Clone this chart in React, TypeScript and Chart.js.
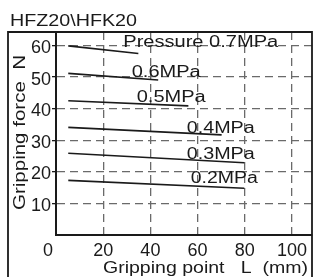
import React, { useEffect, useRef } from "react";
import { Chart, registerables } from "chart.js";

Chart.register(...registerables);

const X_TICKS = [20, 40, 60, 80, 100];
const Y_TICKS = [10, 20, 30, 40, 50, 60];

const PRESSURE_LABELS = ["Pressure 0.7MPa", "0.6MPa", "0.5MPa", "0.4MPa", "0.3MPa", "0.2MPa"];

// Gripping point L (mm) and gripping force N for each line
const L_07 = [5.2, 34.9];
const N_07 = [59.9, 57.5];
const L_06 = [5.2, 43.3];
const N_06 = [51.2, 49.1];
const L_05 = [5.2, 56.1];
const N_05 = [42.5, 40.9];
const L_04 = [5.2, 70.2];
const N_04 = [34.1, 31.7];
const L_03 = [5.2, 79.8];
const N_03 = [25.9, 22.9];
const L_02 = [5.2, 79.8];
const N_02 = [17.3, 14.8];

const SERIES_L = [L_07, L_06, L_05, L_04, L_03, L_02];
const SERIES_N = [N_07, N_06, N_05, N_04, N_03, N_02];

// label anchor (left, baseline) in data units
const LABEL_L = [28.5, 32.1, 34.2, 55.4, 55.4, 57.1];
const LABEL_N = [59.6, 50.1, 42.0, 32.4, 24.0, 16.4];
const LABEL_W = [155, 69, 69, 68, 68, 67];

const FONT = "'Liberation Sans', Arial, sans-serif";
const INK = "#1a1a1a";

function drawStretched(
  ctx: CanvasRenderingContext2D,
  text: string,
  x: number,
  y: number,
  width: number,
  size: number
) {
  ctx.save();
  ctx.font = `${size}px ${FONT}`;
  ctx.fillStyle = INK;
  ctx.textAlign = "left";
  ctx.textBaseline = "alphabetic";
  const w = ctx.measureText(text).width;
  ctx.translate(x, y);
  ctx.scale(width / w, 1);
  ctx.fillText(text, 0, 0);
  ctx.restore();
}

const decor = {
  id: "decor",
  beforeDraw(chart: any) {
    const ctx = chart.ctx as CanvasRenderingContext2D;
    ctx.save();
    ctx.fillStyle = "#ffffff";
    ctx.fillRect(0, 0, chart.width, chart.height);
    ctx.restore();
  },
  afterDraw(chart: any) {
    const ctx = chart.ctx as CanvasRenderingContext2D;
    const xs = chart.scales.x;
    const ys = chart.scales.y;
    const area = chart.chartArea;

    // outer frame
    ctx.save();
    ctx.strokeStyle = INK;
    ctx.lineWidth = 1.8;
    ctx.beginPath();
    ctx.moveTo(8, chart.height + 2);
    ctx.lineTo(8, area.top);
    ctx.lineTo(area.right, area.top);
    ctx.lineTo(area.right, chart.height + 2);
    ctx.stroke();
    ctx.restore();

    // title
    drawStretched(ctx, "HFZ20\\HFK20", 10, 26, 127, 16);

    // x axis title
    drawStretched(ctx, "Gripping point   L  (mm)", 103, 272.5, 205, 16);

    // y axis title (rotated)
    ctx.save();
    ctx.translate(24.5, 210);
    ctx.rotate(-Math.PI / 2);
    drawStretched(ctx, "Gripping force  N", 0, 0, 155, 16);
    ctx.restore();

    // "0" tick on x axis
    ctx.save();
    ctx.font = `18px ${FONT}`;
    ctx.fillStyle = INK;
    ctx.textAlign = "center";
    ctx.textBaseline = "alphabetic";
    ctx.fillText("0", xs.getPixelForValue(0) - 8, 255.5);
    ctx.restore();

    // pressure labels
    PRESSURE_LABELS.forEach((t, i) => {
      drawStretched(
        ctx,
        t,
        xs.getPixelForValue(LABEL_L[i]),
        ys.getPixelForValue(LABEL_N[i]),
        LABEL_W[i],
        16
      );
    });
  },
};

export default function App() {
  const ref = useRef<HTMLCanvasElement | null>(null);

  useEffect(() => {
    const canvas = ref.current;
    if (!canvas) return;
    const datasets = SERIES_L.map((ls, i) => ({
      label: PRESSURE_LABELS[i],
      data: ls.map((l, j) => ({ x: l, y: SERIES_N[i][j] })),
      borderColor: INK,
      borderWidth: 1.6,
      pointRadius: 0,
      fill: false,
      tension: 0,
    }));

    const chart = new Chart(canvas, {
      type: "line",
      data: { datasets },
      options: {
        animation: false,
        responsive: false,
        devicePixelRatio: 1,
        layout: { padding: { left: 0, right: 3, top: 32, bottom: 0 } },
        plugins: {
          legend: { display: false },
          tooltip: { enabled: false },
          title: { display: false },
        },
        scales: {
          x: {
            type: "linear",
            min: 0,
            max: 108.5,
            afterBuildTicks: (s: any) => {
              s.ticks = X_TICKS.map((v) => ({ value: v }));
            },
            afterFit: (s: any) => {
              s.height = 42;
            },
            grid: {
              color: "#6a6a6a",
              lineWidth: 1.3,
              drawTicks: false,
            },
            border: { display: true, color: INK, width: 2, dash: [8, 5] },
            ticks: {
              font: { family: FONT, size: 18 },
              color: INK,
              padding: 5,
              maxRotation: 0,
              autoSkip: false,
            },
          },
          y: {
            type: "linear",
            min: 0,
            max: 64.3,
            afterBuildTicks: (s: any) => {
              s.ticks = Y_TICKS.map((v) => ({ value: v }));
            },
            afterFit: (s: any) => {
              s.width = 56;
            },
            grid: {
              color: "#6a6a6a",
              lineWidth: 1.3,
              tickLength: 4,
              tickColor: INK,
              tickWidth: 1.3,
            },
            border: { display: true, color: INK, width: 2, dash: [8, 5] },
            ticks: {
              font: { family: FONT, size: 18 },
              color: INK,
              padding: 1,
              labelOffset: 2.5,
            },
          },
        },
      },
      plugins: [decor],
    } as any);

    return () => chart.destroy();
  }, []);

  return (
    <div style={{ position: "fixed", left: 0, top: 0, width: 315, height: 277, background: "#fff" }}>
      <canvas ref={ref} width={315} height={277} style={{ display: "block" }} />
    </div>
  );
}
